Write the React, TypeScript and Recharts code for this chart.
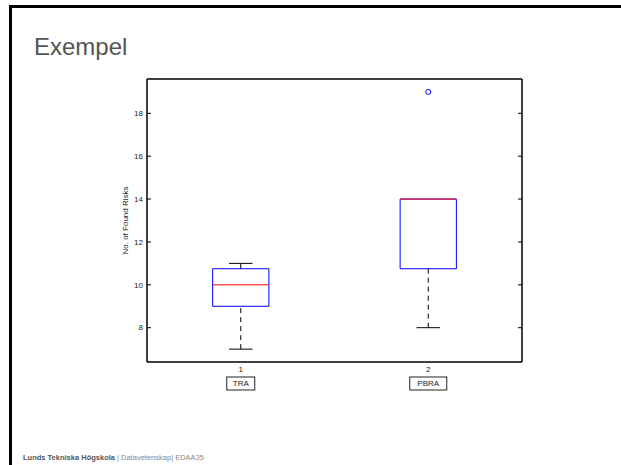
import {
  ComposedChart,
  XAxis,
  YAxis,
  Scatter,
  ReferenceArea,
  ReferenceLine,
} from "recharts";

// box plot data, one entry per group
const categories = ["TRA", "PBRA"];
const positions = [1, 2];
const lowerWhisker = [7, 8];
const q1 = [9, 10.75];
const median = [10, 14];
const q3 = [10.75, 14];
const upperWhisker = [11, 14];
const outliers = [[], [19]];

const yTicks = [8, 10, 12, 14, 16, 18];
const yDomain = [6.4, 19.6];
const xDomain = [0.5, 2.5];

const BOX_HALF = 0.15;
const CAP_HALF = 0.0625;
const FONT = '"Liberation Sans", Arial, Helvetica, sans-serif';
const TICK_GAP = 4;

const outlierPoints = outliers.flatMap((vals, i) =>
  vals.map((v) => ({ x: positions[i], y: v }))
);

const LeftTick = (props: any) => {
  const { x, y, payload } = props;
  const axisX = x + TICK_GAP;
  return (
    <g>
      <line x1={axisX} x2={axisX + 4} y1={y} y2={y} stroke="#000" />
      <text
        x={x}
        y={y}
        dy="0.35em"
        textAnchor="end"
        fontSize={8}
        fontFamily={FONT}
        fill="#222"
      >
        {payload.value}
      </text>
    </g>
  );
};

const RightTick = (props: any) => {
  const { x, y } = props;
  return (
    <g>
      <line x1={x - 4} x2={x} y1={y} y2={y} stroke="#000" strokeWidth={1} />
    </g>
  );
};

const BottomTick = (props: any) => {
  const { x, y, payload } = props;
  const name = categories[positions.indexOf(payload.value)] ?? "";
  const w = name.length * 9 + 1;
  return (
    <g fontFamily={FONT} fontSize={8} fill="#222">
      <text x={x} y={y + 7} dy="0.35em" textAnchor="middle">
        {payload.value}
      </text>
      <rect
        x={x - w / 2}
        y={y + 15}
        width={w}
        height={13}
        fill="#fff"
        stroke="#222"
        strokeWidth={1}
      />
      <text x={x} y={y + 21.5} dy="0.35em" textAnchor="middle">
        {name}
      </text>
    </g>
  );
};

const YLabel = (props: any) => {
  const { viewBox } = props;
  const cx = viewBox.x + 18;
  const cy = viewBox.y + viewBox.height / 2;
  return (
    <text
      x={cx}
      y={cy}
      transform={`rotate(-90 ${cx} ${cy})`}
      textAnchor="middle"
      dy="0.35em"
      fontSize={8}
      fontFamily={FONT}
      fill="#222"
    >
      No. of Found Risks
    </text>
  );
};

const OutlierShape = (props: any) => (
  <circle
    cx={props.cx}
    cy={props.cy}
    r={2.5}
    fill="none"
    stroke="#0000ff"
    strokeWidth={1}
  />
);

// the mirrored axes (top/right) need a series bound to them to get ticks
const NoShape = () => <g />;

export default function App() {
  return (
    <div
      style={{
        position: "absolute",
        left: 0,
        top: 0,
        width: 621,
        height: 465,
        background: "#fff",
        overflow: "hidden",
      }}
    >
      {/* slide frame */}
      <div
        style={{
          position: "absolute",
          left: 9,
          top: 5,
          width: 640,
          height: 480,
          borderTop: "3px solid #000",
          borderLeft: "3px solid #000",
        }}
      />
      <div
        style={{
          position: "absolute",
          left: 34,
          top: 33,
          fontFamily: FONT,
          fontSize: 24,
          color: "#555",
        }}
      >
        Exempel
      </div>
      <div
        style={{
          position: "absolute",
          left: 23,
          top: 453,
          fontFamily: FONT,
          fontSize: 7.5,
          color: "#888",
          whiteSpace: "nowrap",
        }}
      >
        <span style={{ fontWeight: "bold", color: "#555" }}>
          Lunds Tekniska Högskola
        </span>{" "}
        | Datavetenskap| EDAA35
      </div>

      <div style={{ position: "absolute", left: 0, top: 0 }}>
        <ComposedChart
          width={621}
          height={465}
          margin={{ top: 78, right: 98, bottom: 73, left: 107 }}
        >
          <XAxis
            type="number"
            dataKey="x"
            domain={xDomain}
            ticks={positions}
            height={30}
            tickSize={0}
            tickMargin={0}
            tickLine={false}
            tick={<BottomTick />}
            axisLine={{ stroke: "#000", strokeWidth: 1.5 }}
          />
          <XAxis
            xAxisId="top"
            orientation="top"
            type="number"
            dataKey="x"
            domain={xDomain}
            height={1}
            tick={false}
            tickLine={false}
            axisLine={{ stroke: "#000", strokeWidth: 1.5 }}
          />
          <YAxis
            type="number"
            dataKey="y"
            domain={yDomain}
            ticks={yTicks}
            width={40}
            tickSize={0}
            tickMargin={TICK_GAP}
            tickLine={false}
            tick={<LeftTick />}
            axisLine={{ stroke: "#000", strokeWidth: 1.5 }}
            label={<YLabel />}
          />
          <YAxis
            yAxisId="right"
            orientation="right"
            type="number"
            dataKey="y"
            domain={yDomain}
            ticks={yTicks}
            interval={0}
            width={1}
            tickSize={0}
            tickMargin={0}
            tickLine={false}
            tick={<RightTick />}
            axisLine={{ stroke: "#000", strokeWidth: 1.5 }}
          />

          {positions.map((p, i) => (
            <ReferenceLine
              key={`wl-${i}`}
              segment={[
                { x: p, y: lowerWhisker[i] },
                { x: p, y: q1[i] },
              ]}
              stroke="#000"
              strokeDasharray="5 4"
            />
          ))}
          {positions.map((p, i) =>
            upperWhisker[i] > q3[i] ? (
              <ReferenceLine
                key={`wu-${i}`}
                segment={[
                  { x: p, y: q3[i] },
                  { x: p, y: upperWhisker[i] },
                ]}
                stroke="#000"
                strokeDasharray="5 4"
              />
            ) : null
          )}
          {positions.map((p, i) => (
            <ReferenceLine
              key={`cl-${i}`}
              segment={[
                { x: p - CAP_HALF, y: lowerWhisker[i] },
                { x: p + CAP_HALF, y: lowerWhisker[i] },
              ]}
              stroke="#000"
            />
          ))}
          {positions.map((p, i) =>
            upperWhisker[i] > q3[i] ? (
              <ReferenceLine
                key={`cu-${i}`}
                segment={[
                  { x: p - CAP_HALF, y: upperWhisker[i] },
                  { x: p + CAP_HALF, y: upperWhisker[i] },
                ]}
                stroke="#000"
              />
            ) : null
          )}
          {positions.map((p, i) => (
            <ReferenceArea
              key={`box-${i}`}
              x1={p - BOX_HALF}
              x2={p + BOX_HALF}
              y1={q1[i]}
              y2={q3[i]}
              fill="none"
              fillOpacity={0}
              stroke="#0000ff"
              strokeWidth={1}
            />
          ))}
          {positions.map((p, i) => (
            <ReferenceLine
              key={`med-${i}`}
              segment={[
                { x: p - BOX_HALF, y: median[i] },
                { x: p + BOX_HALF, y: median[i] },
              ]}
              stroke="#ff0000"
            />
          ))}
          <Scatter
            data={outlierPoints}
            dataKey="y"
            shape={<OutlierShape />}
            isAnimationActive={false}
          />
          <Scatter
            data={outlierPoints}
            dataKey="y"
            xAxisId="top"
            yAxisId="right"
            shape={<NoShape />}
            isAnimationActive={false}
          />
        </ComposedChart>
      </div>
    </div>
  );
}
